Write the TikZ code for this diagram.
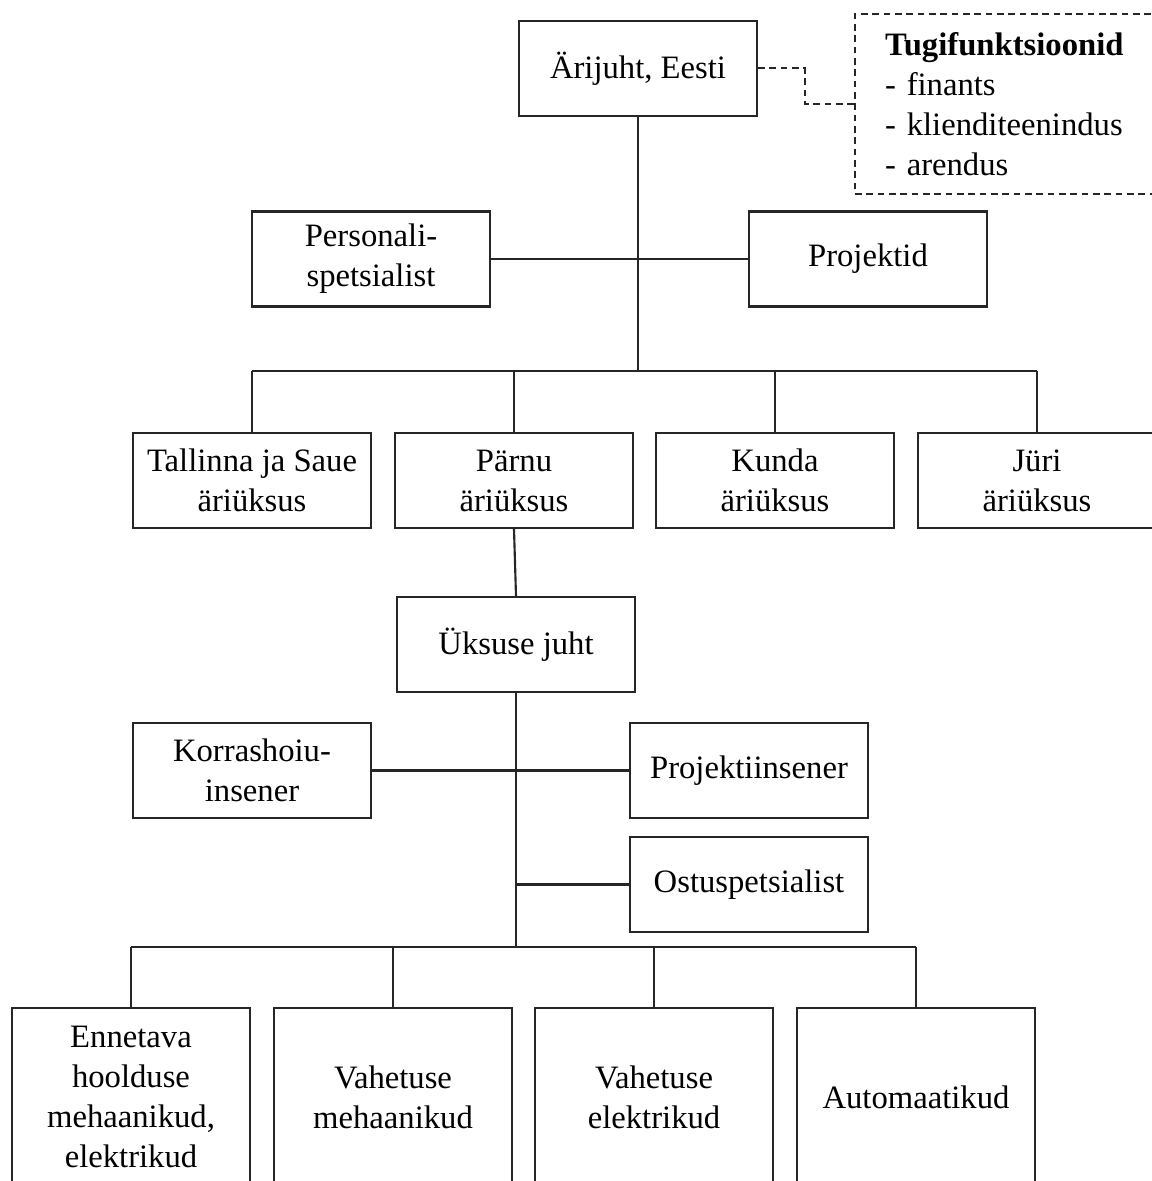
\documentclass[tikz,border=0pt]{standalone}
\usepackage{fontspec}
\setmainfont{Liberation Serif}
\begin{document}
\begin{tikzpicture}[x=0.75pt,y=-0.75pt,
  every node/.style={font=\fontsize{24.5}{30}\selectfont},
  unit/.style={draw=black!85,line width=1.6pt,fill=white,align=center,
    minimum width=178.5pt,minimum height=71.25pt,inner sep=0pt},
  tall/.style={unit,minimum height=133.5pt},
  link/.style={draw=black!85,line width=1.6pt},
  support/.style={draw=black!85,line width=1.5pt,dash pattern=on 5pt off 3.5pt}]
\useasboundingbox (0,0) rectangle (1152,1181);
\clip (0,0) rectangle (1152,1181);

% top level
\node[unit] (arijuht) at (638,68.5) {Ärijuht, Eesti};
\node[support,anchor=west,minimum width=247.5pt,minimum height=135pt,
      text width=202.5pt,align=left,inner xsep=22.5pt] (tugi) at (854,104)
  {\textbf{Tugifunktsioonid}\\- finants\\- klienditeenindus\\- arendus};
\node[unit] (personal) at (371,259) {Personali-\\spetsialist};
\node[unit] (projektid) at (868,259) {Projektid};

% business units
\node[unit] (tallinn) at (252,480.5) {Tallinna ja Saue\\äriüksus};
\node[unit] (parnu) at (514,480.5) {Pärnu\\äriüksus};
\node[unit] (kunda) at (775,480.5) {Kunda\\äriüksus};
\node[unit] (juri) at (1037,480.5) {Jüri\\äriüksus};

% unit staff
\node[unit] (juht) at (516,644.5) {Üksuse juht};
\node[unit] (korras) at (252,770.5) {Korrashoiu-\\insener};
\node[unit] (projinsener) at (749,770.5) {Projektiinsener};
\node[unit] (ostu) at (749,884.5) {Ostuspetsialist};

% crews
\node[tall] (ennetav) at (131,1097) {Ennetava\\hoolduse\\mehaanikud,\\elektrikud};
\node[tall] (vahmeh) at (393,1097) {Vahetuse\\mehaanikud};
\node[tall] (vahel) at (654,1097) {Vahetuse\\elektrikud};
\node[tall] (auto) at (916,1097) {Automaatikud};

% junction points
\coordinate (bus1) at (638,371);
\coordinate (bus2) at (516,947);
\coordinate (dbend) at (805,68.5);

% upper tree
\draw[support] (arijuht.east) -- (dbend) |- (tugi.west);
\draw[link] (arijuht.south) -- (bus1);
\draw[link] (personal.east) -- (projektid.west);
\draw[link] (tallinn.north |- bus1) -- (juri.north |- bus1);
\foreach \n in {tallinn,parnu,kunda,juri}
  \draw[link] (\n.north) -- (\n.north |- bus1);

% lower tree
\draw[link] (parnu.south) -- (juht.north);
\draw[link] (juht.south) -- (bus2);
\draw[link] (korras.east) -- (projinsener.west);
\draw[link] (ostu.west) -- (ostu.west -| juht.south);
\draw[link] (ennetav.north |- bus2) -- (auto.north |- bus2);
\foreach \n in {ennetav,vahmeh,vahel,auto}
  \draw[link] (\n.north) -- (\n.north |- bus2);
\end{tikzpicture}
\end{document}
